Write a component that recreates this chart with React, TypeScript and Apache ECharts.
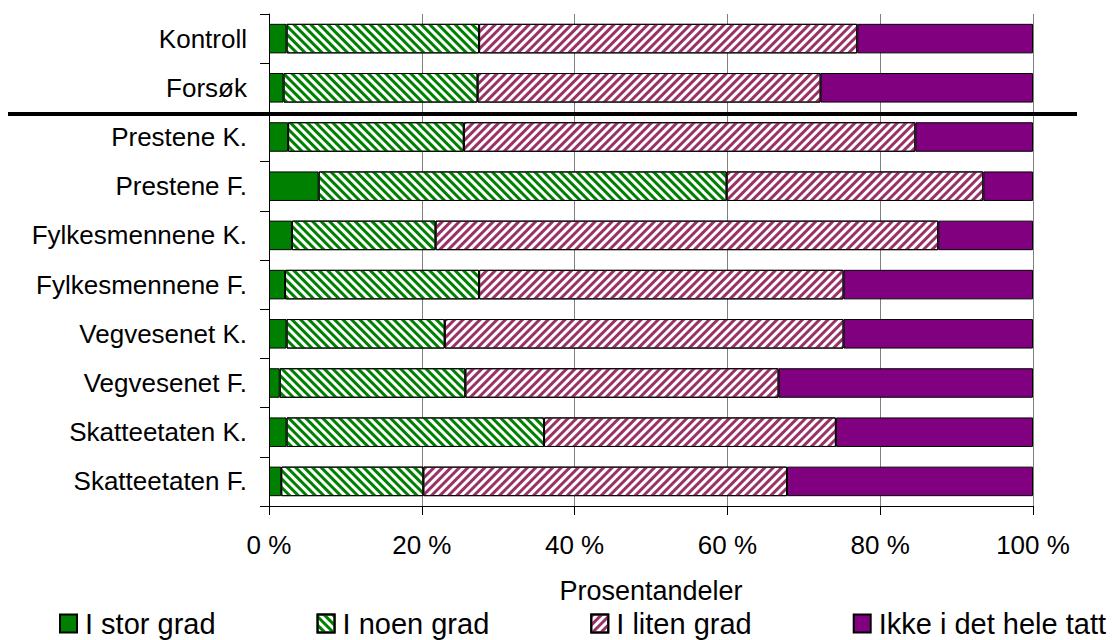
import React, { useEffect, useRef } from "react";
import * as echarts from "echarts";

const categories = [
  "Kontroll",
  "Forsøk",
  "Prestene K.",
  "Prestene F.",
  "Fylkesmennene K.",
  "Fylkesmennene F.",
  "Vegvesenet K.",
  "Vegvesenet F.",
  "Skatteetaten K.",
  "Skatteetaten F.",
];

const seriesNames = ["I stor grad", "I noen grad", "I liten grad", "Ikke i det hele tatt"];

const iStorGrad = [2.3, 1.9, 2.5, 6.5, 3.0, 2.1, 2.3, 1.4, 2.3, 1.6];
const iNoenGrad = [25.2, 25.4, 23.0, 53.4, 18.8, 25.4, 20.7, 24.3, 33.7, 18.6];
const iLitenGrad = [49.5, 44.9, 59.1, 33.6, 65.8, 47.7, 52.2, 41.0, 38.2, 47.6];
const ikkeIDetHeleTatt = [23.0, 27.8, 15.4, 6.5, 12.4, 24.8, 24.8, 33.3, 25.8, 32.2];

const xTicks = [0, 20, 40, 60, 80, 100];

const FONT = "'Liberation Sans', Arial, sans-serif";

export default function App() {
  const ref = useRef<HTMLDivElement>(null);

  useEffect(() => {
    if (!ref.current) return;
    const chart = echarts.init(ref.current, undefined, { renderer: "svg" });

    const border = { borderColor: "#000", borderWidth: 1 };
    const hatch = (color: string, rotation: number) => ({
      symbol: "rect",
      symbolSize: 1,
      color,
      dashArrayX: [1, 0],
      dashArrayY: [3, 3],
      rotation,
    });

    const styles = [
      { color: "#008000", ...border },
      { color: "#ffffff", ...border, decal: hatch("#008000", Math.PI / 4) },
      { color: "#ffffff", ...border, decal: hatch("#993366", -Math.PI / 4) },
      { color: "#800080", ...border },
    ];
    const data = [iStorGrad, iNoenGrad, iLitenGrad, ikkeIDetHeleTatt];

    chart.setOption({
      animation: false,
      backgroundColor: "#ffffff",
      textStyle: { fontFamily: FONT },
      grid: { left: 269, right: 80, top: 14, bottom: 134, containLabel: false },
      legend: {
        left: 59,
        top: 609,
        padding: 0,
        itemGap: 101,
        itemWidth: 17,
        itemHeight: 18,
        icon: "rect",
        data: seriesNames,
        textStyle: { fontSize: 29, color: "#000", fontFamily: FONT, padding: [0, 0, 0, 3] },
      },
      xAxis: {
        type: "value",
        min: xTicks[0],
        max: xTicks[xTicks.length - 1],
        interval: 20,
        name: "Prosentandeler",
        nameLocation: "middle",
        nameGap: 71,
        nameTextStyle: { fontSize: 27, color: "#000", fontFamily: FONT },
        axisLine: { show: true, lineStyle: { color: "#000", width: 1 } },
        axisTick: { show: true, length: 9, lineStyle: { color: "#000" } },
        axisLabel: {
          formatter: "{value} %",
          fontSize: 26,
          color: "#000",
          margin: 26,
          fontFamily: FONT,
        },
        splitLine: { show: true, lineStyle: { color: "#808080", width: 1 } },
      },
      yAxis: {
        type: "category",
        inverse: true,
        data: categories,
        axisLine: { show: true, lineStyle: { color: "#000", width: 1 } },
        axisTick: { show: true, length: 9, lineStyle: { color: "#000" } },
        axisLabel: { fontSize: 26, color: "#000", margin: 22, fontFamily: FONT },
        splitLine: { show: false },
      },
      series: seriesNames.map((name, i) => ({
        name,
        type: "bar",
        stack: "total",
        barCategoryGap: "40%",
        data: data[i],
        itemStyle: styles[i],
        emphasis: { disabled: true },
      })),
      graphic: [
        {
          type: "line",
          shape: { x1: 8, y1: 114, x2: 1077, y2: 114 },
          style: { stroke: "#000", lineWidth: 4 },
          z: 100,
        },
      ],
    });

    return () => chart.dispose();
  }, []);

  return (
    <div
      ref={ref}
      style={{ position: "absolute", left: 0, top: 0, width: 1113, height: 640, background: "#fff" }}
    />
  );
}
